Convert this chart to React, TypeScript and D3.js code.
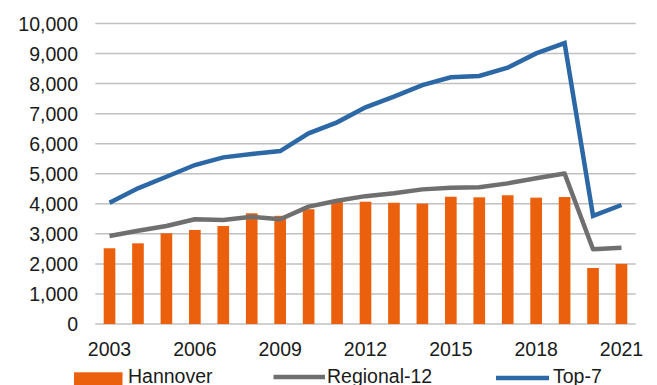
import React from "react";
import * as d3 from "d3";

const years = [2003, 2004, 2005, 2006, 2007, 2008, 2009, 2010, 2011, 2012, 2013, 2014, 2015, 2016, 2017, 2018, 2019, 2020, 2021];
const hannover = [2520, 2685, 3020, 3130, 3260, 3685, 3600, 3820, 4090, 4070, 4035, 4005, 4235, 4215, 4285, 4205, 4225, 1865, 2000];
const regional12 = [2930, 3105, 3260, 3485, 3460, 3570, 3485, 3905, 4100, 4255, 4350, 4480, 4535, 4550, 4680, 4850, 5010, 2490, 2540];
const top7 = [4035, 4515, 4900, 5290, 5545, 5655, 5755, 6345, 6710, 7210, 7565, 7950, 8210, 8255, 8530, 9005, 9350, 3595, 3960];
const yTicks = [0, 1000, 2000, 3000, 4000, 5000, 6000, 7000, 8000, 9000, 10000];
const xTickLabels = ["2003", "2006", "2009", "2012", "2015", "2018", "2021"];

const W = 657;
const H = 385;
const FONT = "'Liberation Sans', Arial, sans-serif";
const ORANGE = "#eb600c";
const GRAY = "#6f6f6f";
const BLUE = "#2c68a6";

export default function App() {
  const x = d3.scaleBand<string>().domain(years.map(String)).range([95.3, 635.7]).padding(0);
  const y = d3.scaleLinear().domain([0, 10000]).range([324, 23.5]);
  const bw = x.bandwidth();
  const cx = (i: number) => (x(String(years[i])) as number) + bw / 2;
  const line = d3
    .line<number>()
    .x((_, i) => cx(i))
    .y((v) => y(v));
  const fmt = d3.format(",");

  return (
    <svg width={W} height={H} style={{ position: "absolute", left: 0, top: 0, display: "block" }} fontFamily={FONT}>
      <rect width={W} height={H} fill="#fff" />
      {yTicks.map((t) => (
        <g key={t}>
          <line x1={95.3} x2={635.7} y1={y(t)} y2={y(t)} stroke="#c0c0c0" strokeWidth={1.5} />
          <text x={78} y={y(t)} dy="0.36em" textAnchor="end" fontSize={19.5} fill="#1a1a1a">
            {fmt(t)}
          </text>
        </g>
      ))}
      {hannover.map((v, i) => (
        <rect key={i} x={cx(i) - bw * 0.205} width={bw * 0.41} y={y(v)} height={y(0) - y(v)} fill={ORANGE} />
      ))}
      <path d={line(regional12) || ""} fill="none" stroke={GRAY} strokeWidth={4.5} strokeLinejoin="round" />
      <path d={line(top7) || ""} fill="none" stroke={BLUE} strokeWidth={4.5} strokeLinejoin="miter" />
      {xTickLabels.map((l) => (
        <text key={l} x={(x(l) as number) + bw / 2} y={356} textAnchor="middle" fontSize={19.5} fill="#1a1a1a">
          {l}
        </text>
      ))}
      <g>
        <rect x={74} y={372.3} width={48.5} height={14} fill={ORANGE} />
        <text x={128} y={382.5} fontSize={19.5} fill="#1a1a1a">Hannover</text>
        <line x1={273.5} x2={325} y1={377} y2={377} stroke={GRAY} strokeWidth={4.5} />
        <text x={327} y={382.5} fontSize={19.5} fill="#1a1a1a">Regional-12</text>
        <line x1={496} x2={549} y1={378} y2={378} stroke={BLUE} strokeWidth={4.5} />
        <text x={553} y={382.5} fontSize={19.5} fill="#1a1a1a">Top-7</text>
      </g>
    </svg>
  );
}
